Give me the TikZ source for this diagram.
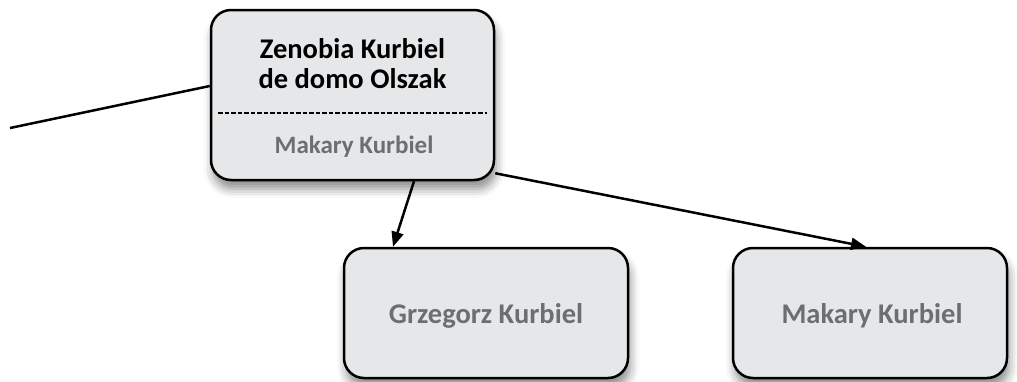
\documentclass[tikz,border=0pt]{standalone}
\usepackage{fontspec}
\setmainfont{Carlito}
\usetikzlibrary{arrows.meta,shadows.blur}
\definecolor{boxfill}{HTML}{E6E7E9}
\definecolor{greytext}{HTML}{6D6E71}
\tikzset{
  person/.style={draw=black, line width=2.5pt, fill=boxfill, rounded corners=20pt,
    blur shadow={shadow xshift=2pt, shadow yshift=-9pt, shadow blur radius=9pt, shadow opacity=45},
    minimum width=#1, minimum height=130pt, inner sep=0pt},
  maintext/.style={font=\bfseries\fontsize{28.5}{30}\selectfont, text=black, align=center},
  subtext/.style={font=\bfseries\fontsize{25}{27}\selectfont, text=greytext},
  childtext/.style={font=\bfseries\fontsize{28.5}{30}\selectfont, text=greytext},
  link/.style={line width=2.5pt, draw=black},
  arrowlink/.style={link, -{Triangle[length=15pt,width=12pt]}}
}
\begin{document}
\begin{tikzpicture}[x=1pt,y=-1pt]
\useasboundingbox (0,0) rectangle (1017,381);
\node[person=283pt, minimum height=170pt] (top) at (352.5,95) {};
\node[maintext] (name) at (352.5,64) {Zenobia Kurbiel\\de domo Olszak};
\coordinate (dashL) at (218,113);
\coordinate (dashR) at (487,113);
\draw[line width=2.5pt, dash pattern=on 4.5pt off 2pt] (dashL) -- (dashR);
\node[subtext] (spouse) at (354,147) {Makary Kurbiel};
\node[person=284pt] (gk) at (486,313) {};
\node[childtext] (gktext) at (486,316) {Grzegorz Kurbiel};
\node[person=274pt] (mk) at (870,313) {};
\node[childtext] (mktext) at (872,316) {Makary Kurbiel};
\coordinate (lend) at (10,128);
\draw[link] (lend) -- ([yshift=9pt]top.west);
\draw[arrowlink] (414,0 |- top.south) -- (393,0 |- gk.north);
\draw[arrowlink] ([yshift=8pt]top.south east) -- (866,0 |- mk.north);
\end{tikzpicture}
\end{document}
